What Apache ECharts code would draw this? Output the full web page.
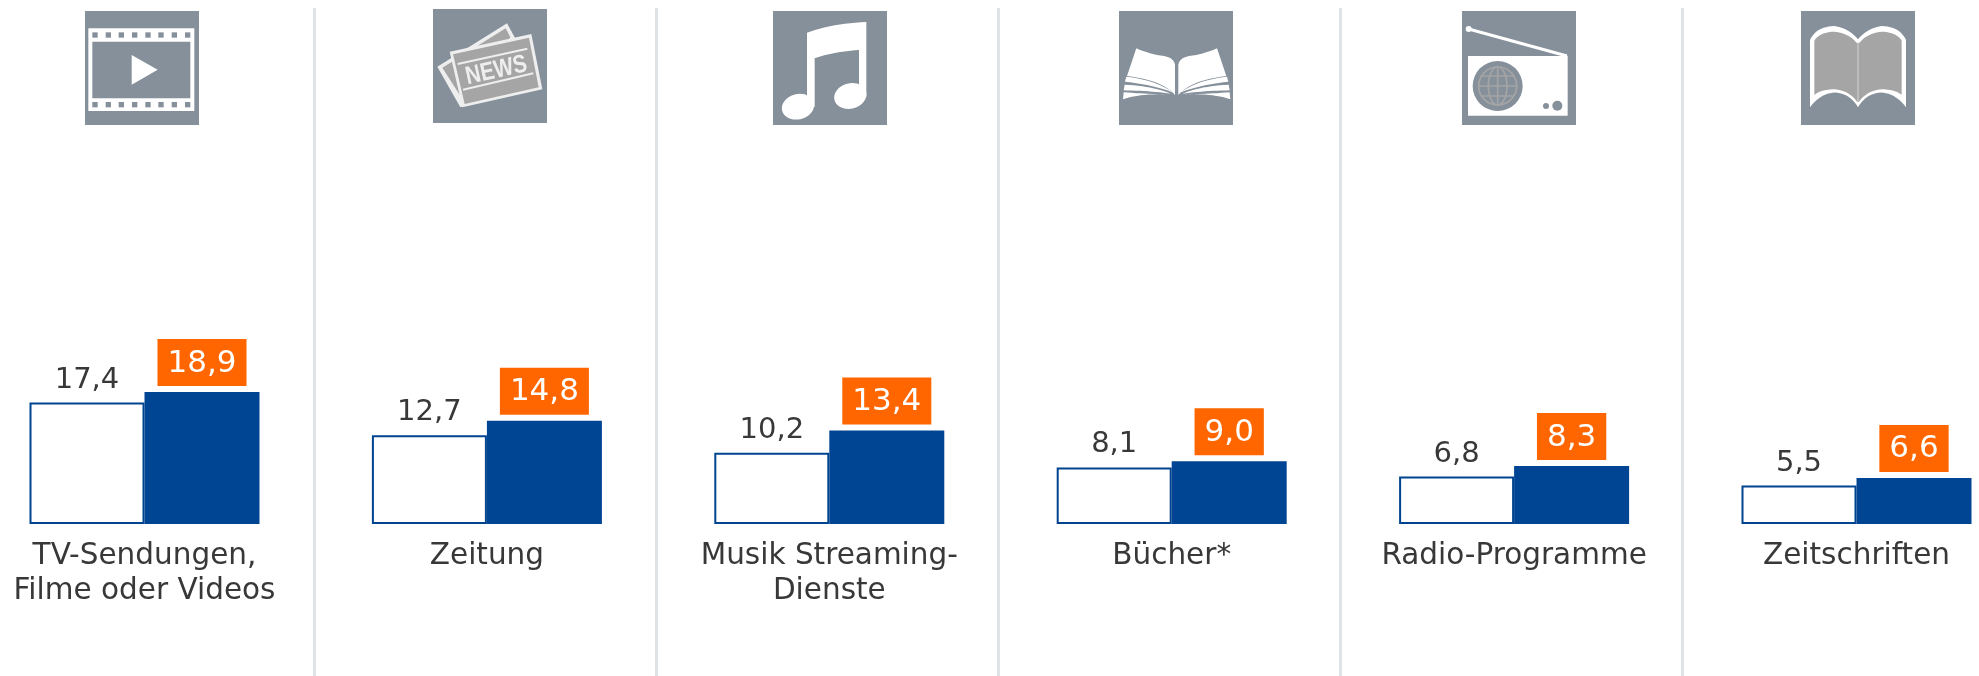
<!DOCTYPE html>
<html>
<head>
<meta charset="utf-8">
<style>html,body{margin:0;padding:0;background:#fff}#chart{width:1979px;height:676px}</style>
<script src="https://cdn.jsdelivr.net/npm/echarts@6/dist/echarts.min.js"></script>
</head>
<body>
<div id="chart"></div>
<script>
const categories = ['TV-Sendungen,\nFilme oder Videos', 'Zeitung', 'Musik Streaming-\nDienste', 'Bücher*', 'Radio-Programme', 'Zeitschriften'];
const previous = [17.4, 12.7, 10.2, 8.1, 6.8, 5.5];
const current = [18.9, 14.8, 13.4, 9.0, 8.3, 6.6];

const FONT = '"DejaVu Sans", Verdana, sans-serif';
const BG = '#85909b', WHITE = '#ffffff', PAGE = '#a5a5a5';
const comma = p => p.value.toFixed(1).replace('.', ',');

// helpers for icon drawing (icon artwork only)
function q(p0, c, p1, n = 12) {
  const out = [];
  for (let i = 0; i <= n; i++) {
    const t = i / n, u = 1 - t;
    out.push([u*u*p0[0] + 2*u*t*c[0] + t*t*p1[0], u*u*p0[1] + 2*u*t*c[1] + t*t*p1[1]]);
  }
  return out;
}
const poly = (points, fill) => ({type:'polygon', shape:{points}, style:{fill}});
const rect = (x, y, w, h, fill) => ({type:'rect', shape:{x, y, width:w, height:h}, style:{fill}});
const circle = (cx, cy, r, fill, stroke, lw) => ({type:'circle', shape:{cx, cy, r}, style: stroke ? {fill:'none', stroke, lineWidth:lw} : {fill}});
const line = (x1, y1, x2, y2, stroke, lw) => ({type:'line', shape:{x1, y1, x2, y2}, style:{stroke, lineWidth:lw}});
const mirror = (pts, ax) => pts.map(p => [2*ax - p[0], p[1]]);
const icon = (x, children, top = 33) => ({
  type:'group', x, y:0, scaleX:1/3, scaleY:1/3, silent:true,
  children:[rect(30, top, 342, 342, BG), ...children]
});

function filmIcon() {
  const holes = [52, 92, 131, 171, 211, 250, 290, 330];
  const c = [rect(40, 85, 318, 248, WHITE)];
  holes.forEach(x => { c.push(rect(x, 97, 16, 16, BG)); c.push(rect(x, 306, 16, 16, BG)); });
  c.push(rect(52, 125, 294, 170, BG));
  c.push(poly([[170,165],[248,209],[170,254]], WHITE));
  return c;
}
function newsIcon() {
  return [
    poly([[43,200],[252,70],[275,112],[345,250],[112,322]], '#eeeeee'),
    poly([[58,203],[248,85],[262,112],[120,300]], PAGE),
    poly([[80,155],[325,102],[358,268],[118,322]], '#eeeeee'),
    poly([[90,163],[318,113],[347,262],[125,312]], PAGE),
    line(104,192,313,146,'#eeeeee',6),
    line(120,269,331,220,'#eeeeee',6),
    {type:'text', x:121, y:195, rotation:0.215, scaleX:0.82,
      style:{text:'NEWS', x:0, y:0, fill:'#eeeeee', font:'bold 76px "Liberation Sans"', textAlign:'left', textVerticalAlign:'top'}}
  ];
}
function musicIcon() {
  return [
    poly([...q([132,98],[210,70],[310,66]), [310,290], [288,290], ...q([288,150],[210,155],[155,175]), [155,320], [132,320]], WHITE),
    {type:'ellipse', shape:{cx:105, cy:320, rx:49, ry:38}, originX:105, originY:320, rotation:0.25, style:{fill:WHITE}},
    {type:'ellipse', shape:{cx:262, cy:288, rx:49, ry:38}, originX:262, originY:288, rotation:0.25, style:{fill:WHITE}}
  ];
}
function openBookIcon() {
  const ax = 203;
  const page = [...q([82,145],[130,165],[160,167]), ...q([160,167],[195,172],[198,195]), [198,285], ...q([198,285],[160,240],[54,228])];
  const a = [...q([52,230],[140,240],[193,278]), ...q([193,278],[140,256],[48,245])];
  const b = [...q([47,254],[130,258],[186,281]), ...q([186,281],[120,272],[44,271])];
  const d = [...q([44,277],[120,282],[186,285]), ...q([186,285],[100,278],[42,298])];
  const c = [];
  [page, a, b, d].forEach(p => { c.push(poly(p, WHITE)); c.push(poly(mirror(p, ax), WHITE)); });
  return c;
}
function radioIcon() {
  const g = PAGE, cx = 137, cy = 258;
  return [
    line(50,87,345,168,WHITE,9),
    circle(50,87,9,WHITE),
    rect(48,168,299,179,WHITE),
    circle(cx,cy,75,BG),
    circle(cx,cy,57,null,g,5),
    {type:'ellipse', shape:{cx, cy, rx:28, ry:57}, style:{fill:'none', stroke:g, lineWidth:5}},
    line(cx,cy-57,cx,cy+57,g,5),
    line(cx-57,cy,cx+57,cy,g,5),
    line(cx-48,cy-30,cx+48,cy-30,g,5),
    line(cx-48,cy+30,cx+48,cy+30,g,5),
    circle(282,318,9,BG),
    circle(316,317,15,BG)
  ];
}
function bookIcon() {
  const ax = 201;
  const white = [...q([57,120],[75,80],[130,78]), ...q([130,78],[175,85],[201,118]), ...q([201,322],[180,285],[140,278]), ...q([140,278],[92,275],[57,322]).slice(1)];
  const gray = [...q([70,122],[85,97],[130,95]), ...q([130,95],[175,100],[198,130]), [198,305], ...q([198,305],[175,272],[130,268]), ...q([130,268],[90,268],[70,285])];
  return [
    poly(white, WHITE), poly(mirror(white, ax), WHITE),
    poly(gray, PAGE), poly(mirror(gray, ax), PAGE),
    line(201,128,201,306,'#bdbdbd',6)
  ];
}

const chart = echarts.init(document.getElementById('chart'), null, {renderer:'canvas'});
chart.setOption({
  animation:false,
  backgroundColor:'#ffffff',
  textStyle:{fontFamily:FONT},
  grid:[
    {left:-26.7, width:2054.4, top:384.4, bottom:152, outerBoundsMode:'none'},
    {left:-27.7, width:2051.4, top:8, bottom:0, outerBoundsMode:'none'}
  ],
  xAxis:[
    {type:'category', gridIndex:0, data:categories,
      axisLine:{show:false}, axisTick:{show:false}, splitLine:{show:false},
      axisLabel:{interval:0, color:'#383838', fontFamily:FONT, fontSize:29.5, lineHeight:35.5, margin:14.5}},
    {type:'category', gridIndex:1, data:categories,
      axisLine:{show:false}, axisTick:{show:false}, axisLabel:{show:false},
      splitLine:{show:true, interval:0, lineStyle:{color:'#dfe3e6', width:3}}}
  ],
  yAxis:[
    {type:'value', gridIndex:0, min:0, max:20, show:false},
    {type:'value', gridIndex:1, min:0, max:1, show:false}
  ],
  series:[
    {type:'bar', name:'previous', data:previous, barWidth:115, barGap:0,
      itemStyle:{color:'#ffffff', borderColor:'#00448f', borderWidth:2},
      label:{show:true, position:'top', distance:8, color:'#383838', fontFamily:FONT, fontSize:29, formatter:comma}, z:2},
    {type:'bar', name:'current', data:current, barWidth:115,
      itemStyle:{color:'#004494'},
      label:{show:true, position:'top', distance:6, color:'#ffffff', fontFamily:FONT, fontSize:31, lineHeight:31,
        backgroundColor:'#ff6600', padding:[9,10,7,10], formatter:comma}, z:3}
  ],
  graphic:{elements:[
    icon(75, filmIcon()),
    icon(423, newsIcon(), 27),
    icon(763, musicIcon()),
    icon(1109, openBookIcon()),
    icon(1452, radioIcon()),
    icon(1791, bookIcon())
  ]}
});
</script>
</body>
</html>
